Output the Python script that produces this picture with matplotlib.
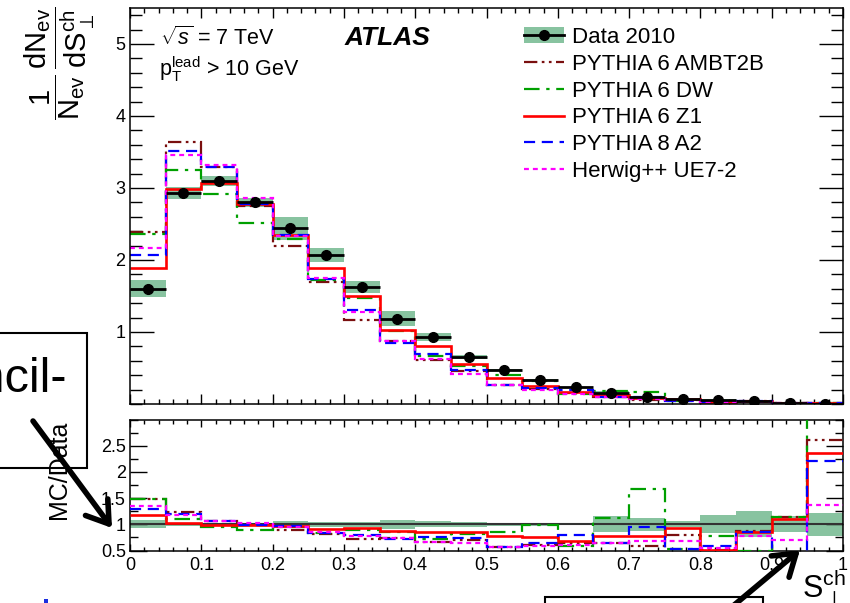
import numpy as np
import matplotlib
matplotlib.use('Agg')
import matplotlib.pyplot as plt
from matplotlib.patches import Patch, Rectangle
from matplotlib.lines import Line2D
from matplotlib.ticker import MultipleLocator, FixedLocator, FuncFormatter

plt.rcParams['font.family'] = ['Liberation Sans', 'DejaVu Sans']
plt.rcParams['mathtext.fontset'] = 'custom'
plt.rcParams['mathtext.rm'] = 'Liberation Sans'
plt.rcParams['mathtext.it'] = 'Liberation Sans:italic'
plt.rcParams['mathtext.bf'] = 'Liberation Sans:bold'

# --- data ---
bin_edges = [0.0, 0.05, 0.10, 0.15, 0.20, 0.25, 0.30, 0.35, 0.40, 0.45, 0.50,
             0.55, 0.60, 0.65, 0.70, 0.75, 0.80, 0.85, 0.90, 0.95, 1.0]

data_2010 = [1.60, 2.93, 3.10, 2.80, 2.44, 2.07, 1.63, 1.185, 0.93, 0.65,
             0.47, 0.333, 0.235, 0.157, 0.100, 0.074, 0.058, 0.042, 0.014, 0.005]
data_relerr = [0.075, 0.027, 0.023, 0.021, 0.065, 0.048, 0.05, 0.085, 0.055, 0.045,
               0.03, 0.03, 0.02, 0.15, 0.12, 0.06, 0.17, 0.25, 0.15, 0.22]

# MC / Data ratios
ratio_ambt2b = [1.49, 1.24, 1.06, 0.98, 0.90, 0.82, 0.72, 0.74, 0.66, 0.70,
                0.57, 0.61, 0.65, 0.64, 0.59, 0.80, 0.51, 0.87, 1.14, 2.61]
ratio_dw = [1.48, 1.11, 0.94, 0.90, 0.94, 0.83, 0.90, 0.85, 0.71, 0.82,
            0.85, 0.98, 0.59, 1.12, 1.68, 0.52, 0.77, 0.50, 1.14, 3.40]
ratio_z1 = [1.18, 1.02, 0.99, 0.99, 0.96, 0.91, 0.92, 0.87, 0.86, 0.85,
            0.78, 0.75, 0.68, 0.77, 0.78, 0.93, 0.51, 0.86, 1.11, 2.37]
ratio_a2 = [1.29, 1.20, 1.06, 0.99, 0.96, 0.84, 0.80, 0.72, 0.75, 0.73,
            0.56, 0.65, 0.80, 0.64, 0.95, 0.53, 0.59, 0.86, 0.45, 2.21]
ratio_hw = [1.35, 1.18, 1.07, 1.02, 0.955, 0.845, 0.785, 0.74, 0.67, 0.65,
            0.57, 0.59, 0.61, 0.65, 0.69, 0.68, 0.54, 0.77, 0.70, 1.37]

mc_names = ['PYTHIA 6 AMBT2B', 'PYTHIA 6 DW', 'PYTHIA 6 Z1', 'PYTHIA 8 A2', 'Herwig++ UE7-2']
mc_ratios = [ratio_ambt2b, ratio_dw, ratio_z1, ratio_a2, ratio_hw]
mc_colors = ['#7a0f0f', '#00a000', '#ff0000', '#0000ff', '#ff00ff']
mc_styles = [(0, (6, 2, 1.2, 2, 1.2, 2)), (0, (7, 3, 1.5, 3)), '-', (0, (5, 3)), (0, (2.2, 1.8))]
mc_widths = [1.6, 1.6, 1.9, 1.6, 1.6]

band_color = '#88c3a0'

W, H = 850, 603


def fx(x):
    return x / W


def fy(y):
    return 1 - y / H


edges = np.array(bin_edges)
centers = 0.5 * (edges[:-1] + edges[1:])
widths = np.diff(edges)
data = np.array(data_2010)
relerr = np.array(data_relerr)

fig = plt.figure(figsize=(8.5, 6.03), dpi=100)
ax = fig.add_axes([fx(130), fy(404), 713 / W, 396 / H])
ax2 = fig.add_axes([fx(130), fy(550.5), 713 / W, 131 / H])

# main panel
ax.bar(centers, 2 * data * relerr, bottom=data * (1 - relerr), width=widths,
       color=band_color, edgecolor='none', zorder=1)
for r, c, ls, lw in zip(mc_ratios, mc_colors, mc_styles, mc_widths):
    ax.stairs(np.array(r) * data, edges, color=c, linestyle=ls, lw=lw, baseline=None, zorder=2)
ax.errorbar(centers, data, xerr=widths / 2, fmt='o', color='k', ms=7, lw=2,
            capsize=0, zorder=3)

ax.set_xlim(0, 1)
ax.set_ylim(0, 5.5)
ax.yaxis.set_major_locator(FixedLocator([1, 2, 3, 4, 5]))
ax.yaxis.set_minor_locator(MultipleLocator(0.2))
ax.xaxis.set_major_locator(MultipleLocator(0.1))
ax.xaxis.set_minor_locator(MultipleLocator(0.02))
ax.tick_params(which='both', direction='in', top=True, right=True, labelbottom=False,
               labelsize=13, width=1)
ax.tick_params(axis='y', which='major', length=17, pad=3.5)
ax.tick_params(axis='y', which='minor', length=8.5)
ax.tick_params(axis='x', which='major', length=7.5)
ax.tick_params(axis='x', which='minor', length=3.6)

handles = [(Patch(facecolor=band_color, edgecolor='none'),
            Line2D([], [], color='k', marker='o', ms=7, lw=2))]
for c, ls, lw in zip(mc_colors, mc_styles, mc_widths):
    handles.append(Line2D([], [], color=c, linestyle=ls, lw=lw))
ax.legend(handles, ['Data 2010'] + mc_names, loc='upper left',
          bbox_to_anchor=(0.552, 0.952), frameon=False, fontsize=16,
          handlelength=1.8, handletextpad=0.38, labelspacing=0.26, borderpad=0,
          borderaxespad=0)

fig.text(fx(160), fy(45), r'$\sqrt{s}$ = 7 TeV', fontsize=15.5, va='baseline')
fig.text(fx(159), fy(76), r'$\mathrm{p}_{\mathrm{T}}^{\mathrm{lead}}$ > 10 GeV',
         fontsize=15.5, va='baseline')
fig.text(fx(345), fy(45), 'ATLAS', fontsize=19, weight='bold', style='italic',
         va='baseline')
fig.text(fx(60), fy(7), r'$\dfrac{1}{\mathrm{N_{ev}}}\,\dfrac{\mathrm{dN_{ev}}}{\mathrm{dS_{\perp}^{ch}}}$',
         rotation=90, ha='center', va='top', fontsize=21)

# ratio panel
ax2.bar(centers, 2 * relerr, bottom=1 - relerr, width=widths,
        color=band_color, edgecolor='none', zorder=1)
ax2.axhline(1, color='#333333', lw=1.5, zorder=2)
for r, c, ls, lw in zip(mc_ratios, mc_colors, mc_styles, mc_widths):
    ax2.stairs(r, edges, color=c, linestyle=ls, lw=lw, baseline=None, zorder=3)

ax2.set_xlim(0, 1)
ax2.set_ylim(0.5, 3.0)
ax2.yaxis.set_major_locator(FixedLocator([0.5, 1, 1.5, 2, 2.5]))
ax2.yaxis.set_minor_locator(MultipleLocator(0.25))
ax2.xaxis.set_major_locator(MultipleLocator(0.1))
ax2.xaxis.set_minor_locator(MultipleLocator(0.02))
ax2.xaxis.set_major_formatter(FuncFormatter(lambda v, p: '%g' % round(v, 2)))
ax2.yaxis.set_major_formatter(FuncFormatter(lambda v, p: '%g' % v))
ax2.tick_params(which='both', direction='in', top=True, right=True, labelsize=13, width=1)
ax2.tick_params(axis='y', which='major', length=12, pad=3)
ax2.tick_params(axis='y', which='minor', length=6)
ax2.tick_params(axis='x', which='major', length=5, pad=4.5)
ax2.tick_params(axis='x', which='minor', length=3)

for a in (ax, ax2):
    for s in a.spines.values():
        s.set_linewidth(1.1)

fig.text(fx(59), fy(470), 'MC/Data', rotation=90, ha='center', va='center', fontsize=18)
fig.text(fx(846), fy(597), r'$\mathrm{S}_{\perp}^{\mathrm{ch}}$', ha='right',
         va='baseline', fontsize=22)

# slide overlays
fig.add_artist(Rectangle((fx(-5), fy(468)), 92 / W, 135 / H, transform=fig.transFigure,
                         fill=False, ec='k', lw=1.5))
fig.text(fx(66), fy(392), 'Pencil-', ha='right', va='baseline', fontsize=35)
fig.add_artist(Rectangle((fx(545), fy(612)), 218 / W, 15 / H, transform=fig.transFigure,
                         fill=False, ec='k', lw=1.5))
fig.add_artist(Rectangle((fx(44), fy(603)), 4 / W, 4 / H, transform=fig.transFigure,
                         fc='#1a2ee0', ec='none'))
arrow_style = dict(arrowstyle='->,head_length=0.75,head_width=0.5', lw=4, color='k',
                   mutation_scale=20, shrinkA=0, shrinkB=0)
ax.annotate('', xy=(112, H - 528), xytext=(33, H - 421), xycoords='figure pixels',
            textcoords='figure pixels', arrowprops=arrow_style, annotation_clip=False)
ax.annotate('', xy=(800, H - 550), xytext=(733, H - 606), xycoords='figure pixels',
            textcoords='figure pixels', arrowprops=arrow_style, annotation_clip=False)

fig.savefig('out.png', dpi=100)
